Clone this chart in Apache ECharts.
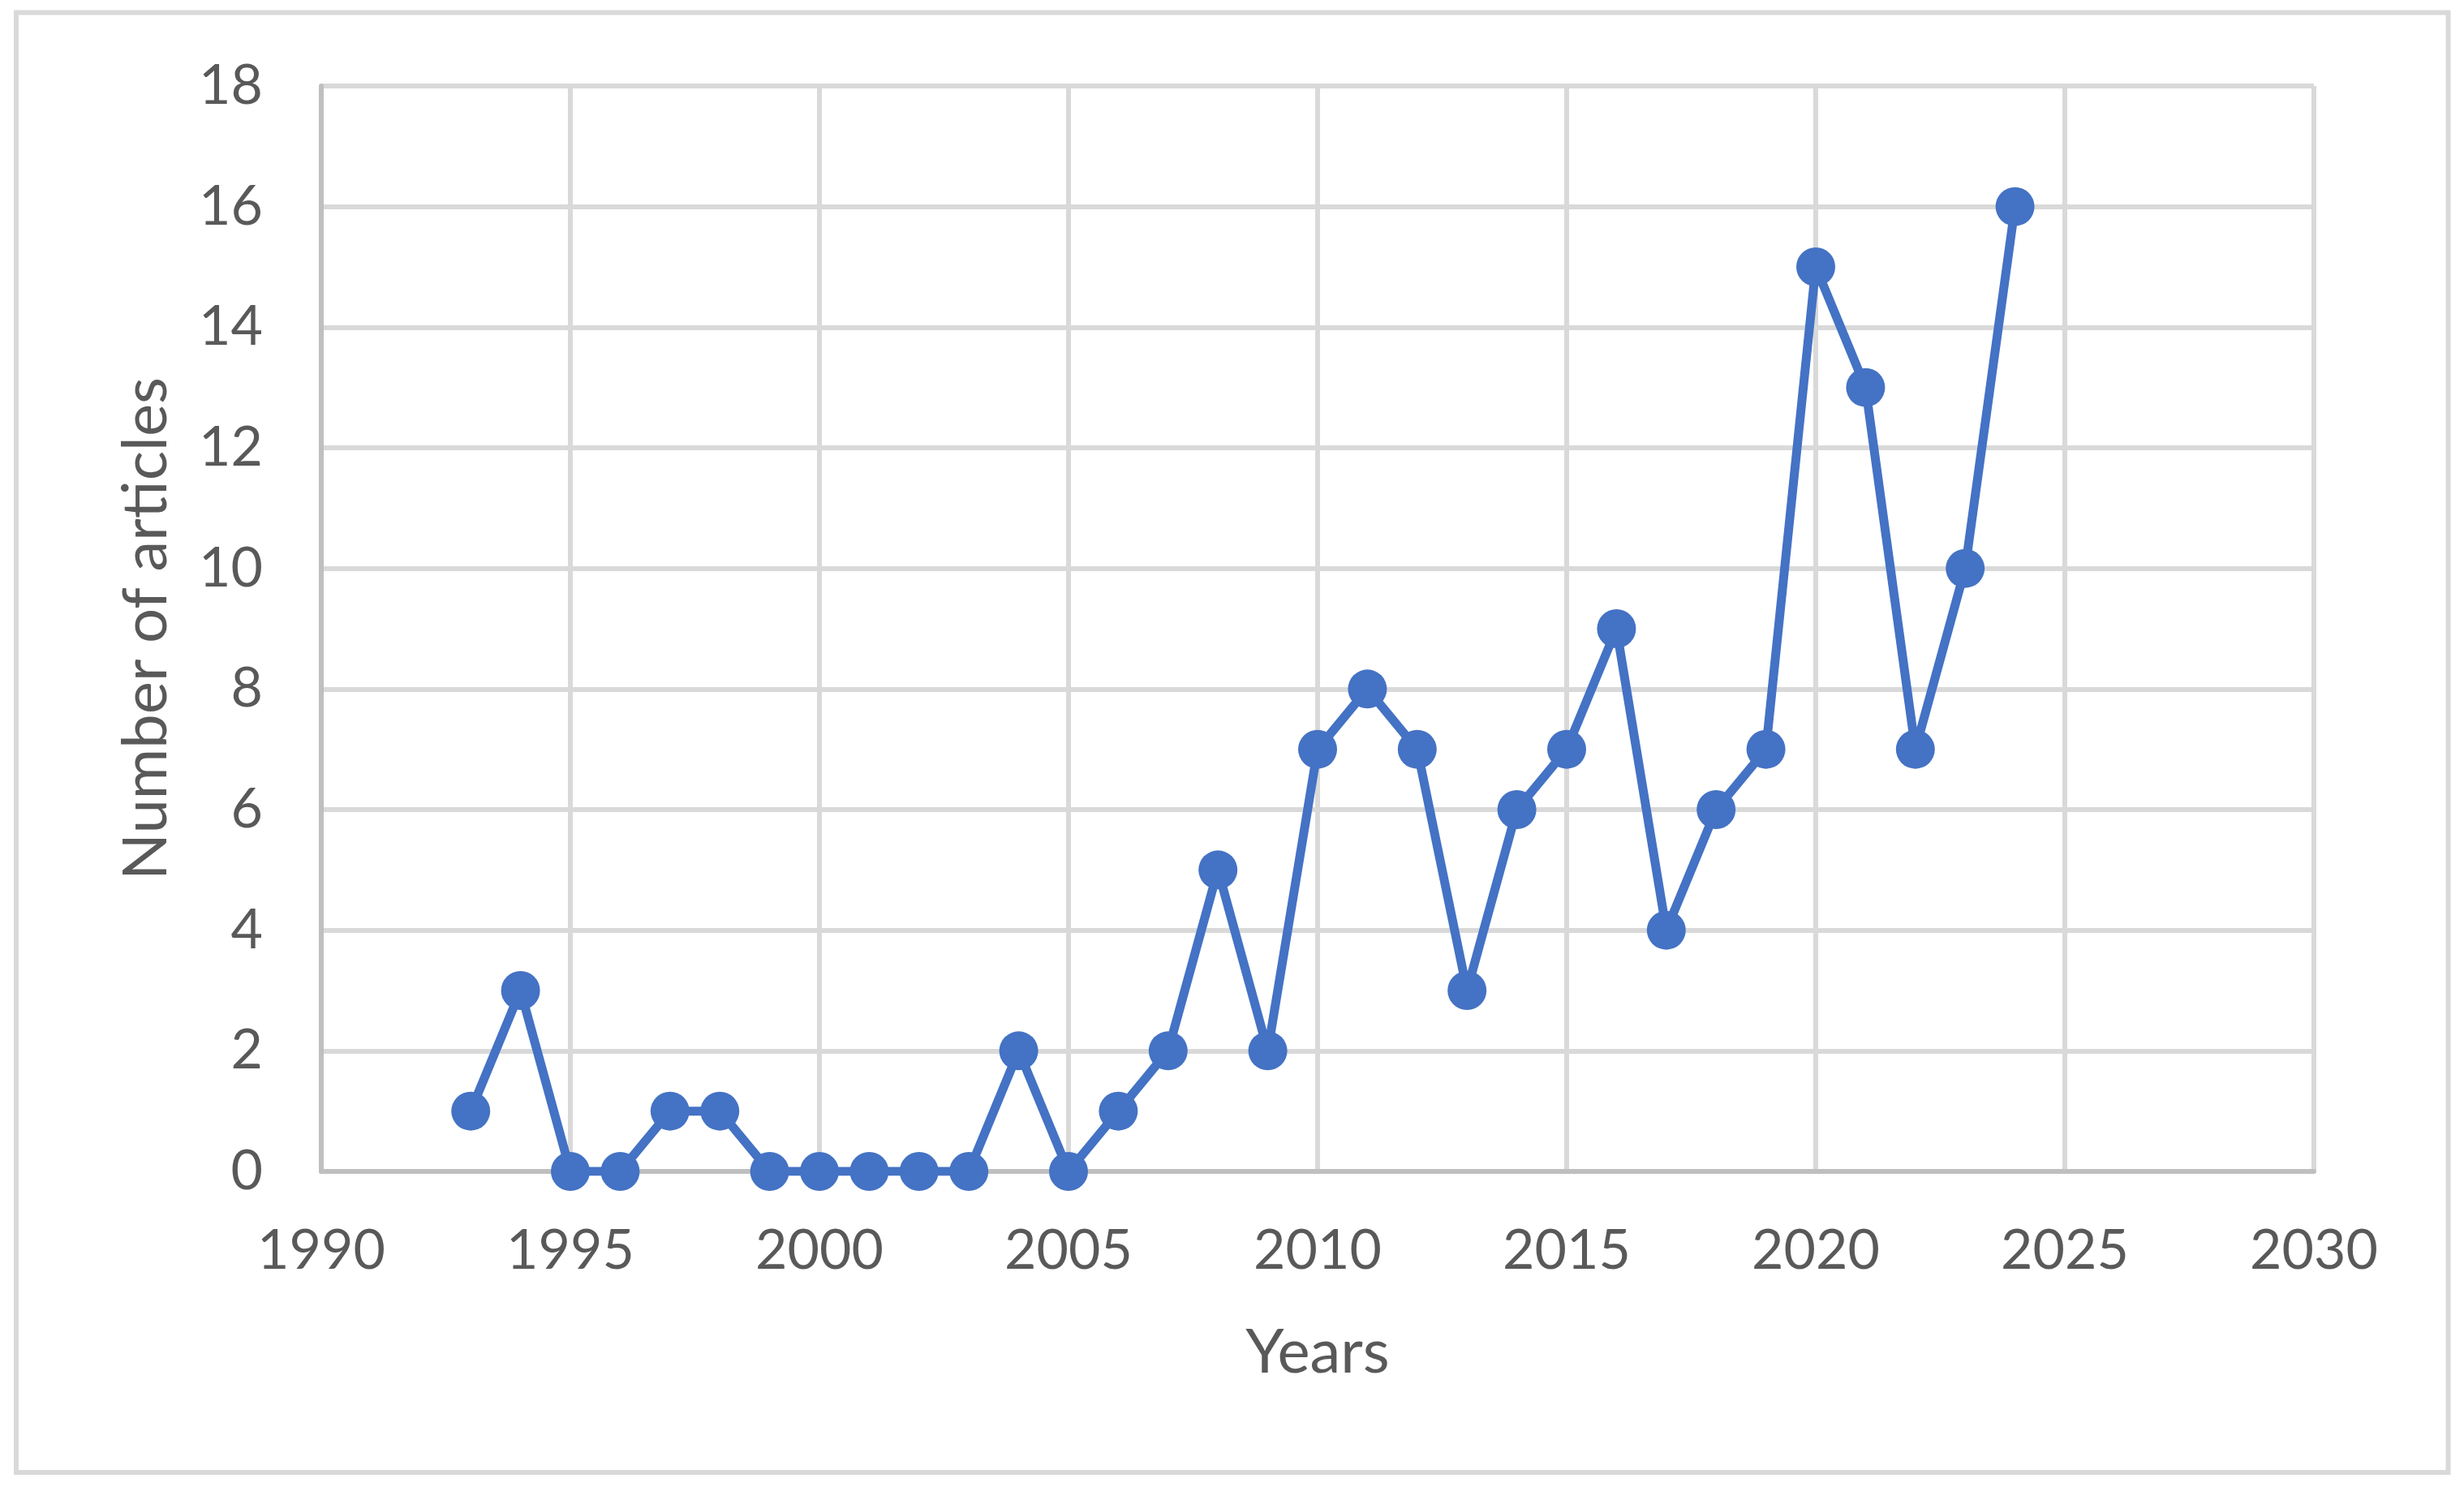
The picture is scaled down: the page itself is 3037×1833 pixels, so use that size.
<!DOCTYPE html>
<html>
<head>
<meta charset="utf-8">
<script src="https://cdn.jsdelivr.net/npm/echarts@6/dist/echarts.min.js"></script>
<style>
  html, body { margin: 0; padding: 0; background: #fff; }
  #chart { width: 3037px; height: 1833px; }
</style>
</head>
<body>
<div id="chart"></div>
<script>
// years and number of articles per year
var years = [1993, 1994, 1995, 1996, 1997, 1998, 1999, 2000, 2001, 2002, 2003,
  2004, 2005, 2006, 2007, 2008, 2009, 2010, 2011, 2012, 2013, 2014, 2015,
  2016, 2017, 2018, 2019, 2020, 2021, 2022, 2023, 2024];
var articles = [1, 3, 0, 0, 1, 1, 0, 0, 0, 0, 0,
  2, 0, 1, 2, 5, 2, 7, 8, 7, 3, 6, 7,
  9, 4, 6, 7, 15, 13, 7, 10, 16];

var xTitle = 'Years';
var yTitle = 'Number of articles';

var FONT = 'Lato';
var LABEL = '#595959';

var chart = echarts.init(document.getElementById('chart'));

var option = {
  backgroundColor: '#ffffff',
  animation: false,
  graphic: [{
    type: 'rect',
    shape: { x: 20, y: 15.5, width: 2997.5, height: 1799.5 },
    style: { fill: 'none', stroke: '#d9d9d9', lineWidth: 6 },
    silent: true
  }],
  grid: {
    left: 396,
    top: 106,
    right: 185,
    bottom: 389,
    outerBoundsMode: 'none'
  },
  xAxis: {
    type: 'value',
    min: 1990,
    max: 2030,
    interval: 5,
    name: xTitle,
    nameLocation: 'middle',
    nameGap: 185,
    nameTextStyle: { fontFamily: FONT, fontSize: 76, color: LABEL },
    axisLine: { show: true, lineStyle: { color: '#bfbfbf', width: 6 } },
    axisTick: { show: false },
    axisLabel: {
      fontFamily: FONT, fontSize: 68, color: LABEL, margin: 64,
      formatter: function (v) { return String(v); }
    },
    splitLine: { show: true, lineStyle: { color: '#d9d9d9', width: 6 } }
  },
  yAxis: {
    type: 'value',
    min: 0,
    max: 18,
    interval: 2,
    name: yTitle,
    nameLocation: 'middle',
    nameGap: 178,
    nameTextStyle: { fontFamily: FONT, fontSize: 76, color: LABEL },
    axisLine: { show: true, lineStyle: { color: '#bfbfbf', width: 6 } },
    axisTick: { show: false },
    axisLabel: { fontFamily: FONT, fontSize: 68, color: LABEL, margin: 72 },
    splitLine: { show: true, lineStyle: { color: '#d9d9d9', width: 6 } }
  },
  series: [{
    type: 'line',
    data: years.map(function (y, i) { return [y, articles[i]]; }),
    symbol: 'circle',
    symbolSize: 48,
    lineStyle: { color: '#4472C4', width: 11 },
    itemStyle: { color: '#4472C4' }
  }]
};

chart.setOption(option);
</script>
</body>
</html>
